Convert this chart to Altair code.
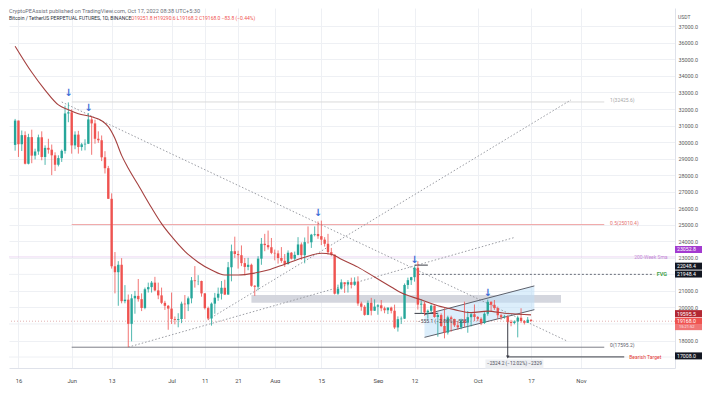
import altair as alt
import pandas as pd

# ---------------- candle data (BTCUSDT perp, 1D) ----------------
dates = pd.date_range("2022-05-15", "2022-10-17", freq="D").strftime("%Y-%m-%d").tolist()

opens = [29830, 31300, 29870, 30420, 28690, 30300, 29180, 29430, 30290, 29100, 29650, 29540, 29200, 28630, 29030, 29470, 31730,
         31800, 29800, 30450, 29700, 29860, 29900, 31370, 31130, 30200, 30110, 29080, 28420, 26570, 22490, 22130, 22580, 20380, 20470, 19010, 20550, 20700, 20500, 19970, 21100, 21230, 21500, 21030, 20730, 20280, 20100,
         19930, 19300, 19250, 19300, 20230, 20190, 20550, 21640, 21590, 21600, 20850, 19960, 19330, 20230, 20590, 20830, 21190, 20780, 22430, 23400, 23230, 23160, 22680, 22450, 22580, 21310, 21250, 22950, 23850, 23770, 23640,
         23300, 23270, 22990, 22820, 22620, 23310, 22950, 23180, 23810, 23160, 23950, 23940, 24400, 24440, 24310, 24100, 23850, 23340, 23190, 20830, 21140, 21520, 21400, 21530, 21370, 21560, 20240, 20040, 19550, 20280, 19800,
         20050, 20130, 19950, 19830, 19990, 19800, 18790, 19290, 19320, 21360, 21650, 21830, 22400, 20170, 20230, 19700, 19800, 20110, 19420, 19540, 18880, 18480, 19400, 19300, 18920, 18800, 19220, 19080, 19410, 19590,
         19420, 19310, 19060, 19620, 20340, 20160, 19960, 19530, 19420, 19450, 19130, 19060, 19150, 19380, 19180, 19070, 19251.8]
highs = [31400, 31300, 30700, 30650, 30500, 30750, 29600, 30450, 30650, 29800, 30200, 29850, 29380, 29200, 29550, 32200, 32400,
         31980, 30650, 30680, 29950, 30170, 31760, 31560, 31350, 30650, 30400, 29450, 28560, 26900, 23350, 22800, 22980, 21350, 20780, 20800, 21000, 21720, 20850, 21200, 21500, 21600, 21850, 21500, 21200, 20400, 20150,
         20900, 19450, 19650, 20350, 20750, 20660, 21840, 22500, 21950, 21620, 20870, 20050, 20300, 20880, 21200, 21600, 21680, 22750, 23800, 24280, 23430, 23750, 22990, 23000, 22650, 21350, 23100, 24200, 24450, 24650, 24200,
         23500, 23450, 23650, 23230, 23450, 23350, 23380, 24250, 23930, 24230, 24900, 24450, 24900, 25200, 25250, 24250, 24450, 23600, 23200, 21380, 21700, 21520, 21650, 21800, 21820, 21880, 20350, 20140, 20420, 20580, 20490,
         20200, 20450, 20050, 20000, 20050, 20170, 19460, 19450, 21450, 21800, 21850, 22490, 22800, 20500, 20330, 19880, 20190, 20110, 19680, 19640, 19950, 19500, 19500, 19320, 19190, 19320, 20350, 19780, 19650, 20180,
         19480, 19400, 19710, 20470, 20370, 20450, 20050, 19620, 19550, 19530, 19250, 19220, 19500, 19950, 19220, 19420, 19290.6]
lows = [29480, 29100, 29460, 28650, 28650, 28720, 28950, 29230, 28900, 28620, 29300, 28000, 28250, 28530, 28800, 29300, 31200,
        29300, 29570, 29300, 29480, 29500, 29880, 29230, 29900, 29950, 28850, 28100, 26560, 22350, 20850, 20100, 20250, 20250, 17600, 17950, 19620, 20350, 19780, 19890, 20900, 20900, 20980, 20500, 20200, 19850, 18650,
        19000, 18980, 18800, 19050, 19300, 19780, 20250, 21200, 21350, 20650, 19880, 19230, 18900, 19620, 20400, 20480, 20750, 20760, 21580, 23000, 22350, 22500, 21950, 22250, 21250, 20700, 21040, 22580, 23400, 23500, 23220,
        22850, 22650, 22700, 22450, 22600, 22900, 22850, 23150, 22880, 22670, 23860, 23600, 24300, 24150, 23770, 23680, 23200, 23100, 20780, 20760, 21080, 20880, 20900, 21150, 21310, 20100, 19800, 19500, 19530, 19520, 19790,
        19560, 19770, 19650, 19600, 19640, 18700, 18540, 19000, 19300, 21120, 21360, 21560, 19870, 19620, 19500, 19320, 19700, 19380, 18230, 18820, 18130, 18360, 18530, 18820, 18640, 18680, 18820, 18470, 18850, 19170,
        19170, 18930, 19000, 19500, 19750, 19850, 19320, 19250, 19320, 19020, 18860, 18980, 18190, 19070, 18970, 19060, 19168.2]
closes = [31300, 29870, 30420, 28690, 30300, 29180, 29430, 30290, 29100, 29650, 29540, 29200, 28630, 29030, 29470, 31730, 31800,
          29800, 30450, 29700, 29860, 29900, 31370, 31130, 30200, 30110, 29080, 28420, 26570, 22490, 22130, 22580, 20380, 20470, 19010, 20550, 20700, 20500, 19970, 21100, 21230, 21500, 21030, 20730, 20280, 20100, 19930,
          19300, 19250, 19300, 20230, 20190, 20550, 21640, 21590, 21600, 20850, 19960, 19330, 20230, 20590, 20830, 21190, 20780, 22430, 23400, 23230, 23160, 22680, 22450, 22580, 21310, 21250, 22950, 23850, 23770, 23640, 23300,
          23270, 22990, 22820, 22620, 23310, 22950, 23180, 23810, 23160, 23950, 23940, 24400, 24440, 24310, 24100, 23850, 23340, 23190, 20830, 21140, 21520, 21400, 21530, 21370, 21560, 20240, 20040, 19550, 20280, 19800, 20050,
          20130, 19950, 19830, 19990, 19800, 18790, 19290, 19320, 21360, 21650, 21830, 22400, 20170, 20230, 19700, 19800, 20110, 19420, 19540, 18880, 18480, 19400, 19300, 18920, 18800, 19220, 19080, 19410, 19590, 19420,
          19310, 19060, 19620, 20340, 20160, 19960, 19530, 19420, 19450, 19130, 19060, 19150, 19380, 19180, 19070, 19260, 19168.0]

# ---------------- moving average ----------------
ma_dates = ["2022-05-15", "2022-05-20", "2022-05-24", "2022-05-28", "2022-05-31", "2022-06-03", "2022-06-07", "2022-06-10",
            "2022-06-12", "2022-06-14", "2022-06-16", "2022-06-18", "2022-06-21", "2022-06-25", "2022-06-28", "2022-07-01",
            "2022-07-05", "2022-07-09", "2022-07-13", "2022-07-17", "2022-07-21", "2022-07-26", "2022-07-30", "2022-08-04",
            "2022-08-10", "2022-08-15", "2022-08-18", "2022-08-21", "2022-08-26", "2022-08-31", "2022-09-05", "2022-09-08",
            "2022-09-14", "2022-09-19", "2022-09-24", "2022-09-29", "2022-10-04", "2022-10-09", "2022-10-17"]
ma_vals = [35800, 34220, 33145, 32247, 31948, 31709, 31529, 31290, 30931, 30213, 29197, 28419, 27402, 26027, 25070, 24292,
           23395, 22737, 22259, 21960, 21960, 22079, 22259, 22617, 23036, 23275, 23215, 22917, 22438, 21840, 21242, 20883,
           20465, 20106, 19866, 19687, 19780, 19650, 19550]

# ---------------- drawings ----------------
dotted_d1 = ["2022-05-29", "2022-07-12", "2022-06-18"]
dotted_p1 = [32426, 19268, 17600]
dotted_d2 = ["2022-10-28", "2022-10-29", "2022-10-12"]
dotted_p2 = [17952, 32550, 24230]

fib_levels = [32425.6, 25010.4, 17595.2]
fib_labels = ["1(32425.6)", "0.5(25010.4)", "0(17595.2)"]
fib_colors = ["#dadada", "#f0a4a4", "#7d7f87"]
fib_text_colors = ["#a8a8a8", "#e57373", "#5d606b"]
fib_start, fib_end, fib_label_date = "2022-06-01", "2022-11-08", "2022-11-09T18:00:00Z"

arrow_dates = ["2022-05-31", "2022-06-06", "2022-08-14", "2022-09-12", "2022-10-04"]
arrow_prices = [32950, 32067, 25728, 22857, 20884]

ch_dates = ["2022-09-15", "2022-10-18"]
ch_lower = [18192, 19866]
ch_upper = [19567, 21302]

zone_d1, zone_d2, zone_p1, zone_p2 = "2022-07-25", "2022-10-26", 20285, 20760

# price-scale label boxes: shown value, position on the scale, colour
box_text = ["23052.8", "22048.4", "21948.4", "19595.5", "19168.0", "17008.0"]
box_pos = [23505, 22498, 22020, 19626, 19168, 17070]
box_col = ["#a33bd0", "#131722", "#131722", "#b22833", "#ef5350", "#131722"]

W, H = 666, 360
xs = alt.Scale(type="utc", domain=[alt.DateTime(year=2022, month=5, date=14, hours=16, utc=True),
                                   alt.DateTime(year=2022, month=11, date=27, hours=18, utc=True)])
ys = alt.Scale(domain=[16338, 38108], nice=False, zero=False)

tick_dates = [(5, 16), (6, 1), (6, 13), (7, 1), (7, 11), (7, 21), (8, 1), (8, 15), (9, 1), (9, 12), (10, 1), (10, 17), (11, 1)]
price_ticks = [v for v in range(18000, 38000, 1000) if v not in (19000, 22000)]
hidden_grid = [17000, 19000, 22000]
FONT = "Roboto"
GRID = "#eef0f4"
xaxis = alt.Axis(values=[alt.DateTime(year=2022, month=m, date=d, utc=True) for m, d in tick_dates],
                 labelExpr="utcdate(datum.value) == 1 ? utcFormat(datum.value, '%b') : utcFormat(datum.value, '%-d')",
                 grid=True, gridColor=GRID, domainColor="#dfe2ea", ticks=False, labelFontSize=5.8,
                 labelColor="#4a4a4a", labelFont=FONT, labelPadding=9, title=None, labelFlush=False,
                 labelOverlap=False, zindex=0)
yaxis = alt.Axis(orient="right", values=price_ticks, format=".1f", grid=True, gridColor=GRID,
                 domainColor="#dfe2ea", ticks=False, labelFontSize=5.4, labelColor="#5a5a5a", labelFont=FONT,
                 labelPadding=3, title=None, labelFlush=False, labelOverlap=False, zindex=0)


def X(f):
    return alt.X(f, type="temporal", scale=xs, axis=xaxis)


def Y(f):
    return alt.Y(f, type="quantitative", scale=ys, axis=yaxis)


df = pd.DataFrame({"date": dates, "open": opens, "high": highs, "low": lows, "close": closes})
df["dir"] = ["up" if c >= o else "down" for o, c in zip(opens, closes)]
ccol = alt.Color("dir:N", scale=alt.Scale(domain=["up", "down"], range=["#26a69a", "#ef5350"]), legend=None)

layers = []

# grid lines whose labels are covered by the price boxes
hg = pd.DataFrame({"p": hidden_grid})
layers.append(alt.Chart(hg).mark_rule(strokeWidth=1, color=GRID).encode(y=Y("p")))

# zone
zone = pd.DataFrame({"d1": [zone_d1], "d2": [zone_d2], "p1": [zone_p1], "p2": [zone_p2]})
layers.append(alt.Chart(zone).mark_rect(color="#cfd2da", opacity=0.9).encode(
    x=X("d1"), x2="d2", y=Y("p1"), y2="p2"))

# channel fill
ch = pd.DataFrame({"d": ch_dates, "lo": ch_lower, "hi": ch_upper})
layers.append(alt.Chart(ch).mark_area(color="#bfe0f7", opacity=0.55).encode(x=X("d"), y=Y("lo"), y2="hi"))

# 200 week sma line and current price line
hl = pd.DataFrame({"p": [23052.8]})
layers.append(alt.Chart(hl).mark_rule(strokeWidth=0.7, color="#e3c6ee").encode(y=Y("p")))
cur = pd.DataFrame({"p": [19168.0]})
layers.append(alt.Chart(cur).mark_rule(strokeWidth=0.8, strokeDash=[1, 2], color="#d9a0a0").encode(y=Y("p")))

# fib lines
fib = pd.DataFrame({"d1": fib_start, "d2": fib_end, "p": fib_levels, "c": fib_colors, "tc": fib_text_colors,
                    "lab": fib_labels, "ld": fib_label_date})
layers.append(alt.Chart(fib).mark_rule(strokeWidth=1).encode(
    x=X("d1"), x2="d2", y=Y("p"), color=alt.Color("c:N", scale=None)))
layers.append(alt.Chart(fib).mark_text(align="left", baseline="middle", fontSize=5, font=FONT, dy=-2).encode(
    x=X("ld"), y=Y("p"), text="lab", color=alt.Color("tc:N", scale=None)))

# dotted trend lines
dl = pd.DataFrame({"d1": dotted_d1, "p1": dotted_p1, "d2": dotted_d2, "p2": dotted_p2})
layers.append(alt.Chart(dl).mark_rule(strokeWidth=1, strokeDash=[1.5, 2], color="#9a9ca3").encode(
    x=X("d1"), x2="d2", y=Y("p1"), y2="p2"))

# channel border lines
chl = pd.DataFrame({"d1": [ch_dates[0]] * 2, "d2": [ch_dates[1]] * 2,
                    "p1": [ch_lower[0], ch_upper[0]], "p2": [ch_lower[1], ch_upper[1]]})
layers.append(alt.Chart(chl).mark_rule(strokeWidth=1, color="#5d606b").encode(
    x=X("d1"), x2="d2", y=Y("p1"), y2="p2"))

# FVG dashed line, Sep-12 top line, measure line, bearish target line
seg = pd.DataFrame({"d1": ["2022-09-13", "2022-09-12", "2022-09-12", "2022-10-10"],
                    "d2": ["2022-11-23", "2022-09-16", "2022-09-19", "2022-11-14"],
                    "p": [22000, 22560, 19640, 17008],
                    "k": ["dash", "solid", "solid", "solid"]})
layers.append(alt.Chart(seg[seg.k == "dash"]).mark_rule(strokeWidth=1, strokeDash=[2, 2], color="#6a6d78").encode(
    x=X("d1"), x2="d2", y=Y("p")))
layers.append(alt.Chart(seg[seg.k == "solid"]).mark_rule(strokeWidth=1, color="#3a3d46").encode(
    x=X("d1"), x2="d2", y=Y("p")))

# vertical measure
vm = pd.DataFrame({"d": ["2022-10-10"], "p1": [19332], "p2": [17008]})
layers.append(alt.Chart(vm).mark_rule(strokeWidth=1, color="#3a3d46").encode(x=X("d"), y=Y("p1"), y2="p2"))
layers.append(alt.Chart(vm).mark_point(shape="triangle-down", filled=True, size=12, color="#3a3d46", opacity=1).encode(
    x=X("d"), y=Y("p2")))

# candles
layers.append(alt.Chart(df).mark_rule(strokeWidth=0.8).encode(x=X("date"), y=Y("low"), y2="high", color=ccol))
layers.append(alt.Chart(df).mark_bar(width=2.4).encode(x=X("date"), y=Y("open"), y2="close", color=ccol))

# MA
ma = pd.DataFrame({"date": ma_dates, "v": ma_vals})
layers.append(alt.Chart(ma).mark_line(color="#a5403f", strokeWidth=1.1, interpolate="monotone").encode(
    x=X("date"), y=Y("v")))

# arrows
ar = pd.DataFrame({"d": arrow_dates, "p": arrow_prices, "t": ["↓"] * 5})
layers.append(alt.Chart(ar).mark_text(fontSize=10, fontWeight="bold", color="#3d6fd6", font="DejaVu Sans").encode(
    x=X("d"), y=Y("p"), text="t"))

# annotation texts
notes = pd.DataFrame({
    "d": ["2022-11-17", "2022-11-15T12:00:00Z", "2022-09-13"],
    "p": [23052.8, 17008, 19150],
    "t": ["200-Week Sma", "Bearish Target", "−555.1 (−2.86%) −555"],
    "c": ["#c48ad6", "#e53935", "#4a4d57"]})
layers.append(alt.Chart(notes).mark_text(align="left", baseline="middle", fontSize=5, font=FONT).encode(
    x=X("d"), y=Y("p"), text="t", color=alt.Color("c:N", scale=None)))
fvg = pd.DataFrame({"d": ["2022-11-23T18:00:00Z"], "p": [22000], "t": ["FVG"]})
layers.append(alt.Chart(fvg).mark_text(align="left", baseline="middle", fontSize=5.5, font=FONT, fontWeight="bold",
                                       color="#43a047").encode(x=X("d"), y=Y("p"), text="t"))

# measure label box
mb = pd.DataFrame({"d": ["2022-10-12"], "p": [16577], "t": ["−2324.2 (−12.02%) −2329"]})
layers.append(alt.Chart(mb).mark_tick(orient="horizontal", size=58, thickness=9, color="#eef0f3", opacity=1).encode(
    x=X("d"), y=Y("p")))
layers.append(alt.Chart(mb).mark_text(fontSize=4.8, font=FONT, color="#4a4d57").encode(x=X("d"), y=Y("p"), text="t"))

# price axis label boxes
bx = pd.DataFrame({"p": box_pos, "c": box_col, "t": box_text})
layers.append(alt.Chart(bx).mark_tick(orient="horizontal", size=27, thickness=7, opacity=1).encode(
    x=alt.value(W + 13.5), y=Y("p"), color=alt.Color("c:N", scale=None)))
cdbox = pd.DataFrame({"p": [18808], "t": ["15:21:52"]})
layers.append(alt.Chart(cdbox).mark_tick(orient="horizontal", size=27, thickness=6, opacity=1, color="#f07575").encode(
    x=alt.value(W + 13.5), y=Y("p")))
layers.append(alt.Chart(bx).mark_text(align="left", baseline="middle", fontSize=5.2, font=FONT, color="white").encode(
    x=alt.value(W + 2), y=Y("p"), text="t"))
layers.append(alt.Chart(cdbox).mark_text(align="left", baseline="middle", fontSize=4, font=FONT, color="#ffeaea").encode(
    x=alt.value(W + 4), y=Y("p"), text="t"))

# header texts
hdr_x = [0, 0, 122, W + 3]
hdr_y = [3, 10, 10, 9]
hdr_s = [5.6, 5.0, 5.0, 5.0]
hdr_t = ["CryptoPEAssist published on TradingView.com, Oct 17, 2022 08:38 UTC+5:30",
         "Bitcoin / TetherUS PERPETUAL FUTURES, 1D, BINANCE",
         "O19251.8  H19290.6  L19168.2  C19168.0  −83.8 (−0.44%)",
         "USDT"]
hdr_c = ["#6b6e78", "#2a2e39", "#ef5350", "#5a5a5a"]
for hx, hy, hs, ht, hc in zip(hdr_x, hdr_y, hdr_s, hdr_t, hdr_c):
    r = pd.DataFrame({"t": [ht]})
    layers.append(alt.Chart(r).mark_text(align="left", baseline="middle", fontSize=hs, font=FONT, color=hc).encode(
        x=alt.value(hx), y=alt.value(hy), text="t"))

chart = alt.layer(*layers).properties(width=W, height=H, padding={"left": 0, "top": 0, "right": 0, "bottom": 0},
                                      background="white").configure_view(stroke=None)

chart.save("out.html", embed_options={"renderer": "svg", "actions": False})
